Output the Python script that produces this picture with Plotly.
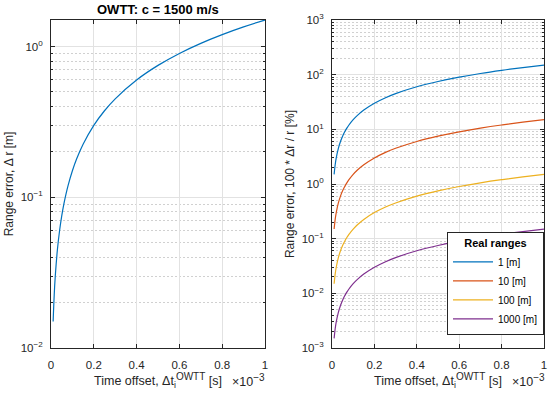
import plotly.graph_objects as go

# Time offset (x 1e-3 s)
time_offset = [0.01, 0.015, 0.02, 0.03, 0.04, 0.05, 0.06, 0.07, 0.08, 0.1, 0.12, 0.15,
               0.2, 0.25, 0.3, 0.4, 0.5, 0.6, 0.7, 0.8, 0.9, 1.0]
# Left panel: range error [m]
range_error = [0.015, 0.0225, 0.03, 0.045, 0.06, 0.075, 0.09, 0.105, 0.12, 0.15, 0.18, 0.225,
               0.3, 0.375, 0.45, 0.6, 0.75, 0.9, 1.05, 1.2, 1.35, 1.5]
# Right panel: relative range error [%] per real range
rel_1m = [1.5, 2.25, 3.0, 4.5, 6.0, 7.5, 9.0, 10.5, 12.0, 15.0, 18.0, 22.5,
          30.0, 37.5, 45.0, 60.0, 75.0, 90.0, 105.0, 120.0, 135.0, 150.0]
rel_10m = [0.15, 0.225, 0.3, 0.45, 0.6, 0.75, 0.9, 1.05, 1.2, 1.5, 1.8, 2.25,
           3.0, 3.75, 4.5, 6.0, 7.5, 9.0, 10.5, 12.0, 13.5, 15.0]
rel_100m = [0.015, 0.0225, 0.03, 0.045, 0.06, 0.075, 0.09, 0.105, 0.12, 0.15, 0.18, 0.225,
            0.3, 0.375, 0.45, 0.6, 0.75, 0.9, 1.05, 1.2, 1.35, 1.5]
rel_1000m = [0.0015, 0.00225, 0.003, 0.0045, 0.006, 0.0075, 0.009, 0.0105, 0.012, 0.015, 0.018, 0.0225,
             0.03, 0.0375, 0.045, 0.06, 0.075, 0.09, 0.105, 0.12, 0.135, 0.15]
series_names = ["1 [m]", "10 [m]", "100 [m]", "1000 [m]"]
series_values = [rel_1m, rel_10m, rel_100m, rel_1000m]
colors = ["#0072BD", "#D95319", "#EDB120", "#7E2F8E"]

x_ticks = [0, 0.2, 0.4, 0.6, 0.8, 1]
x_ticktext = ["0", "0.2", "0.4", "0.6", "0.8", "1"]

FONT = "Liberation Sans, Arial, Helvetica, sans-serif"
AX = "#262626"
GRID = "#e2e2e2"
MINOR = "#d0d0d0"

W, H = 550, 398
ML, MR, MT, MB = 51, 6, 20, 50
PW, PH = W - ML - MR, H - MT - MB


def fx(p):  # pixel x -> paper
    return (p - ML) / PW


def fy(p):  # pixel y -> paper
    return (H - MB - p) / PH


def decades(lo, hi):
    vals = [10.0 ** e for e in range(lo, hi + 1)]
    txt = [("10<sup>%d</sup>" % e).replace("-", "\u2212") for e in range(lo, hi + 1)]
    minors = [m * 10.0 ** e for e in range(lo, hi) for m in range(2, 10)]
    return vals, txt, minors


fig = go.Figure()
fig.add_trace(go.Scatter(x=time_offset, y=range_error, mode="lines",
                         line=dict(color=colors[0], width=1.2, shape="spline"),
                         showlegend=False, xaxis="x", yaxis="y"))
for name, vals, col in zip(series_names, series_values, colors):
    fig.add_trace(go.Scatter(x=time_offset, y=vals, mode="lines", name=name,
                             line=dict(color=col, width=1.2, shape="spline"), xaxis="x2", yaxis="y2"))

XTITLE = ("Time offset, \u0394t<sub>i</sub><sup><span style='font-size:10px'>OWTT</span></sup> [s]")
XEXP = "\u00d710<sup><span style='font-size:10px'>\u22123</span></sup>"

common_x = dict(range=[0, 1], tickmode="array", tickvals=x_ticks, ticktext=x_ticktext,
                showline=True, linecolor=AX, linewidth=1, mirror="ticks", ticks="inside", ticklen=4,
                tickcolor=AX, showgrid=True, gridcolor=GRID, gridwidth=1, zeroline=False,
                automargin=False, ticklabelstandoff=6,
                tickfont=dict(size=11.5, color=AX, family=FONT),
                title=dict(text=XTITLE, standoff=4,
                           font=dict(size=12.5, color=AX, family=FONT)))

lv, lt, lm = decades(-2, 0)
rv, rt, rm = decades(-3, 3)


def yax(rng, vals, txt, minors):
    return dict(type="log", range=rng, tickmode="array", tickvals=vals, ticktext=txt,
                showline=True, linecolor=AX, linewidth=1, mirror="ticks", ticks="inside", ticklen=4,
                tickcolor=AX, showgrid=True, gridcolor=GRID, gridwidth=1, zeroline=False,
                automargin=False, ticklabelstandoff=5,
                tickfont=dict(size=11.5, color=AX, family=FONT),
                minor=dict(tickmode="array", tickvals=minors, ticks="inside", ticklen=2, tickcolor=AX,
                           showgrid=True, gridcolor=MINOR, griddash="2px,2px", gridwidth=1))


fig.update_layout(
    width=W, height=H, margin=dict(l=ML, r=MR, t=MT, b=MB, autoexpand=False),
    paper_bgcolor="white", plot_bgcolor="white",
    font=dict(family=FONT, color=AX),
    xaxis=dict(domain=[0, fx(265)], anchor="y", **common_x),
    xaxis2=dict(domain=[fx(332), 1], anchor="y2", **common_x),
    yaxis=dict(domain=[0, 1], anchor="x",
               title=dict(text="Range error, \u0394 r [m]", standoff=4,
                          font=dict(size=12, color=AX, family=FONT)),
               **yax([-2, 0.1761], lv, lt, lm)),
    yaxis2=dict(domain=[0, 1], anchor="x2",
                title=dict(text="Range error, 100 * \u0394r / r [%]", standoff=4,
                           font=dict(size=12, color=AX, family=FONT)),
                **yax([-3, 3], rv, rt, rm)),
    legend=dict(x=fx(544), y=fy(335), xanchor="right", yanchor="bottom",
                bgcolor="white", bordercolor=AX, borderwidth=1,
                title=dict(text="<b>Real ranges</b>", side="top center",
                           font=dict(size=11, color="black", family=FONT)),
                font=dict(size=10, color="black", family=FONT), itemwidth=40, tracegroupgap=0),
    shapes=[
        dict(type="line", xref="paper", yref="paper", x0=fx(447), x1=fx(544), y0=fy(252), y1=fy(252),
             line=dict(color=AX, width=1), layer="above"),
    ],
    annotations=[
        dict(text="<b>OWTT: c = 1500 m/s</b>", x=(fx(51) + fx(265)) / 2, y=fy(10),
             xref="paper", yref="paper", showarrow=False,
             font=dict(size=13, color="black", family=FONT), xanchor="center", yanchor="middle"),
        dict(text=XEXP, x=fx(267), y=fy(380), xref="paper", yref="paper",
             showarrow=False, font=dict(size=12.5, color=AX, family=FONT), xanchor="right", yanchor="middle"),
        dict(text=XEXP, x=fx(547), y=fy(380), xref="paper", yref="paper",
             showarrow=False, font=dict(size=12.5, color=AX, family=FONT), xanchor="right", yanchor="middle"),
    ],
)

fig.write_html("out.html", config={"displayModeBar": False},
               post_script="document.body.style.margin='0px';document.body.style.overflow='hidden';")
